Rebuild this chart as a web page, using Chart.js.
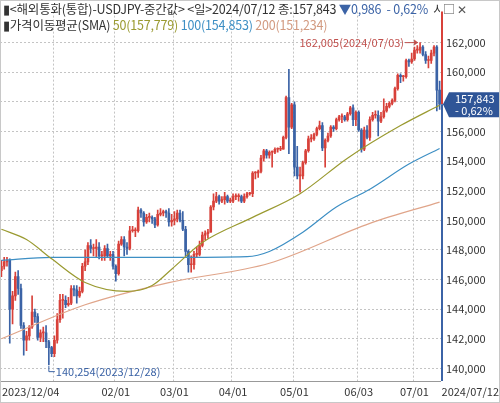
<!DOCTYPE html>
<html>
<head>
<meta charset="utf-8">
<script src="https://cdn.jsdelivr.net/npm/chart.js@4"></script>
<style>
  body { margin: 0; background: #fff; }
  #wrap { position: relative; width: 500px; height: 403px; font-family: "Noto Sans CJK KR", sans-serif; overflow: hidden; }
  .hd { position: absolute; left: 3px; font-size: 12.5px; color: #333; white-space: nowrap; letter-spacing: -0.2px; }
  #box { position: absolute; left: 0; top: 0; width: 498px; height: 401px; border: 1px solid #c8c8c8; pointer-events: none; }
</style>
</head>
<body>
<div id="wrap">
  <canvas id="chart" width="500" height="403"></canvas>
  <div class="hd" style="top:-1px; width:437px; overflow:hidden;">▮&lt;해외통화(통합)-USDJPY-중간값&gt; &lt;일&gt;2024/07/12 종:157,843 <span style="color:#3b63a6">▼0,986 &nbsp;- 0,62%</span> &nbsp;시:158,8</div>
  <div class="hd" style="top:15px;">▮가격이동평균(SMA) <span style="color:#9a9a30">50(157,779)</span> <span style="color:#3d8fc4">100(154,853)</span> <span style="color:#d29a80">200(151,234)</span></div>
  <div class="hd" style="top:0px; left:443px; font-size:12px; color:#555;">□ ✕</div>
  <div id="box"></div>
</div>
<script>
// 일봉 데이터 (2023/12/04 ~ 2024/07/12)
const opens = [
  146.6,146.9,147.2,147.3,144.0,144.9,146.2,145.4,142.9,141.9,142.2,142.8,143.8,143.5,142.1,142.4,142.4,141.8,141.4,
  141.0,141.9,143.3,144.6,144.6,144.3,144.4,145.4,145.3,144.9,145.2,146.9,147.2,148.3,148.1,148.1,148.2,147.6,147.6,148.1,147.6,147.7,
  146.9,146.4,148.4,148.7,148.2,148.1,149.3,149.3,149.3,150.7,150.5,149.9,150.2,150.2,150.1,149.7,150.4,150.5,150.6,150.5,149.9,
  150.0,150.1,150.5,150.0,149.4,147.9,147.0,147.0,147.7,147.7,148.3,149.0,149.1,149.2,150.9,151.3,151.6,151.3,151.4,151.6,151.3,
  151.3,151.6,151.6,151.6,151.3,151.6,151.8,151.8,153.2,153.2,153.3,154.2,154.7,154.4,154.6,154.6,154.8,154.8,154.8,155.6,158.3,156.3,
  157.8,153.6,153.0,153.0,153.9,154.7,155.5,155.5,155.8,156.2,156.4,154.9,155.4,155.7,156.3,156.2,156.8,157.0,157.0,156.8,157.2,157.6,156.8,
  157.3,156.1,154.8,156.1,155.6,156.8,157.1,157.1,156.7,157.0,157.4,157.7,157.9,158.1,158.9,159.8,159.7,159.7,160.8,160.7,
  160.9,161.5,161.5,161.7,161.2,160.8,160.8,161.3,161.7,158.8
];
const highs = [
  147.3,147.5,147.5,147.4,145.2,146.5,146.6,145.7,143.1,142.5,142.9,144.9,144.0,143.7,142.6,142.8,142.9,141.9,141.5,
  142.2,143.7,145.0,145.0,144.9,144.8,145.6,145.6,145.6,145.5,147.1,148.0,148.5,148.7,148.4,148.7,148.5,147.9,148.3,148.4,147.9,147.9,
  147.0,148.6,148.9,148.9,148.5,149.6,149.6,149.5,150.9,150.8,150.6,150.4,150.5,150.3,150.2,150.7,150.8,150.7,150.7,150.8,150.4,
  150.6,150.7,150.7,150.6,149.6,148.0,147.6,147.9,148.2,148.6,149.2,149.3,149.4,151.0,151.8,151.9,151.7,151.6,151.9,151.7,151.5,
  151.8,151.8,151.8,151.7,151.8,151.9,151.9,153.3,153.3,153.4,154.4,154.8,154.8,154.7,154.7,154.9,154.9,155.0,155.7,158.4,160.2,157.9,
  158.0,155.0,153.6,154.0,154.8,155.7,155.8,155.9,156.3,156.7,156.6,155.5,155.9,156.4,156.4,156.9,157.1,157.2,157.1,157.3,157.7,157.8,157.4,
  157.4,156.2,156.3,156.4,157.0,157.3,157.4,157.4,157.3,158.2,157.9,158.0,158.2,159.0,159.9,159.9,159.8,160.9,160.9,161.3,
  161.7,161.8,162.005,161.8,161.4,161.1,161.5,161.8,161.8,159.4
];
const lows = [
  146.2,146.7,146.9,141.7,143.0,144.6,145.0,142.7,140.9,141.2,141.9,142.7,143.1,141.9,141.8,141.8,141.4,140.254,140.8,
  140.8,141.7,143.1,143.4,144.1,144.2,144.3,144.9,144.4,144.8,145.1,146.6,147.0,147.8,147.6,147.5,147.4,147.3,147.3,147.5,147.3,146.7,
  145.9,146.3,148.3,147.6,147.7,148.0,149.2,148.9,149.2,150.2,149.6,149.8,149.9,149.8,149.5,149.6,150.3,150.3,150.2,149.6,149.6,
  149.7,149.9,149.9,149.3,147.6,146.5,146.5,146.7,147.5,147.6,148.2,148.7,148.8,149.2,150.7,151.2,151.1,151.2,151.1,151.2,151.2,
  151.2,151.4,151.3,151.2,151.2,151.5,151.7,151.6,152.8,152.9,153.2,154.0,154.2,154.2,153.6,154.5,154.6,154.7,154.8,155.5,154.5,156.2,
  153.0,152.8,151.9,152.8,153.8,154.6,155.3,155.4,155.7,156.1,154.7,153.6,155.3,155.6,156.0,156.1,156.7,156.6,156.7,156.7,157.1,156.4,156.4,
  156.0,154.6,154.7,155.5,155.4,156.7,156.9,155.7,156.6,156.9,157.3,157.6,157.8,158.0,158.8,159.3,159.4,159.6,160.4,160.6,
  160.8,161.3,161.3,161.1,160.6,160.3,160.6,161.1,157.4,157.5
];
const closes = [
  146.9,147.2,147.3,144.0,144.9,146.2,145.4,142.9,141.9,142.2,142.8,143.8,143.5,142.1,142.4,142.4,141.8,141.4,141.0,
  141.9,143.3,144.6,144.6,144.3,144.4,145.4,145.3,144.9,145.2,146.9,147.2,148.3,148.1,148.1,148.2,147.6,147.6,148.1,147.6,147.7,146.9,
  146.4,148.4,148.7,148.2,148.1,149.3,149.3,149.3,150.7,150.5,149.9,150.2,150.2,150.1,149.7,150.4,150.5,150.6,150.5,149.9,150.0,
  150.1,150.5,150.0,149.4,147.9,147.0,147.0,147.7,147.7,148.3,149.0,149.1,149.2,150.9,151.3,151.6,151.3,151.4,151.6,151.3,151.3,
  151.6,151.6,151.6,151.3,151.6,151.8,151.8,153.2,153.2,153.3,154.2,154.7,154.4,154.6,154.6,154.8,154.8,154.8,155.6,158.3,156.3,157.8,
  153.6,153.0,153.0,153.9,154.7,155.5,155.5,155.8,156.2,156.4,154.9,155.4,155.7,156.3,156.2,156.8,157.0,157.0,156.8,157.2,157.6,156.8,157.3,
  156.1,154.8,156.1,155.6,156.8,157.1,157.1,156.7,157.0,157.4,157.7,157.9,158.1,158.9,159.8,159.7,159.7,160.8,160.7,160.9,
  161.5,161.5,161.7,161.2,160.8,160.8,161.3,161.7,158.8,157.843
];

// 이동평균 (그림에서 읽은 값, 나머지는 null)
const ma50Pts  = { 0:149.4, 9:148.7, 18:147.4, 30:145.8, 45:145.2, 54:145.6, 61:146.7, 72:148.5, 90:150.2, 107:151.8, 124:154.2, 143:156.4, 157:157.779 };
const ma100Pts = { 0:147.3, 18:147.5, 60:147.5, 88:147.55, 96:147.9, 108:149.2, 120:150.9, 132:152.1, 146:153.8, 157:154.853 };
const ma200Pts = { 0:142.0, 30:144.3, 60:145.8, 96:147.1, 132:149.8, 157:151.234 };

// 날짜 라벨
const skipDays = ["2023/12/25", "2024/01/01"];
const dates = [];
for (let d = new Date(2023, 11, 4); d <= new Date(2024, 6, 12); d.setDate(d.getDate() + 1)) {
  if (d.getDay() === 0 || d.getDay() === 6) continue;
  const s = d.getFullYear() + "/" + String(d.getMonth() + 1).padStart(2, "0") + "/" + String(d.getDate()).padStart(2, "0");
  if (!skipDays.includes(s)) dates.push(s);
}
const gridDates = ["2024/01/02", "2024/02/01", "2024/03/01", "2024/04/01", "2024/05/01", "2024/06/03", "2024/07/01"];
const tickLabels = { "2023/12/04": "2023/12/04", "2024/02/01": "02/01", "2024/03/01": "03/01", "2024/04/01": "04/01", "2024/05/01": "05/01", "2024/06/03": "06/03", "2024/07/01": "07/01" };
const yTicks = [140, 142, 144, 146, 148, 150, 152, 154, 156, 158, 160, 162];

const UP = "#d8413a", DOWN = "#3b63a6";
const candleColors = closes.map((c, i) => c >= opens[i] ? UP : DOWN);
const maSeries = pts => dates.map((_, i) => pts[i] !== undefined ? pts[i] : null);
const fmt = v => v.toFixed(3).replace(".", ",");

const overlay = {
  id: "overlay",
  afterDraw(chart) {
    const { ctx, chartArea: a, scales: { x, y } } = chart;
    ctx.save();
    ctx.font = "11px 'Noto Sans CJK KR', sans-serif";
    ctx.textBaseline = "middle";
    // x 라벨
    ctx.fillStyle = "#333";
    dates.forEach((d, i) => {
      if (!tickLabels[d]) return;
      const px = x.getPixelForValue(i);
      ctx.textAlign = i === 0 ? "left" : "center";
      ctx.fillText(tickLabels[d], i === 0 ? 2 : px, a.bottom + 11);
    });
    ctx.textAlign = "right";
    ctx.fillText("2024/07/12", 499, a.bottom + 11);
    // 하단 축선
    ctx.strokeStyle = "#999"; ctx.lineWidth = 1;
    ctx.beginPath(); ctx.moveTo(0, a.bottom + 0.5); ctx.lineTo(a.right, a.bottom + 0.5); ctx.stroke();
    // 우측 축선 (현재가 위: 빨강, 아래: 파랑)
    const last = closes[closes.length - 1];
    const py = y.getPixelForValue(last);
    ctx.lineWidth = 2;
    ctx.strokeStyle = UP;
    ctx.beginPath(); ctx.moveTo(a.right + 1, a.top); ctx.lineTo(a.right + 1, py); ctx.stroke();
    ctx.strokeStyle = DOWN;
    ctx.beginPath(); ctx.moveTo(a.right + 1, py); ctx.lineTo(a.right + 1, a.bottom); ctx.stroke();
    // 현재가 태그
    ctx.fillStyle = "#2f5597";
    ctx.beginPath();
    ctx.moveTo(a.right + 2, py);
    ctx.lineTo(a.right + 8, py - 12);
    ctx.lineTo(500, py - 12);
    ctx.lineTo(500, py + 13);
    ctx.lineTo(a.right + 8, py + 13);
    ctx.closePath(); ctx.fill();
    ctx.fillStyle = "#fff";
    ctx.textAlign = "left";
    ctx.fillText(fmt(last), a.right + 14, py - 5);
    ctx.fillText("- 0,62%", a.right + 14, py + 7);
    // 최고/최저 표시
    const hi = Math.max(...highs), hiI = highs.indexOf(hi);
    const lo = Math.min(...lows), loI = lows.indexOf(lo);
    const hx = x.getPixelForValue(hiI), hy = y.getPixelForValue(hi);
    ctx.fillStyle = "#c0504d"; ctx.strokeStyle = "#c0504d"; ctx.lineWidth = 1;
    ctx.textAlign = "right";
    ctx.fillText(fmt(hi) + "(" + dates[hiI] + ")", hx - 16, hy);
    ctx.beginPath(); ctx.moveTo(hx - 15, hy); ctx.lineTo(hx - 2, hy); ctx.stroke();
    ctx.beginPath(); ctx.moveTo(hx - 2, hy); ctx.lineTo(hx - 6, hy - 3); ctx.lineTo(hx - 6, hy + 3); ctx.fill();
    const lx = x.getPixelForValue(loI), ly = y.getPixelForValue(lo);
    ctx.fillStyle = DOWN; ctx.strokeStyle = DOWN;
    ctx.textAlign = "left";
    ctx.beginPath(); ctx.moveTo(lx, ly + 1); ctx.lineTo(lx, ly + 7); ctx.lineTo(lx + 6, ly + 7); ctx.stroke();
    ctx.fillText(fmt(lo) + "(" + dates[loI] + ")", lx + 7, ly + 7);
    ctx.restore();
  }
};

const maLine = (pts, color) => ({
  type: "line", data: maSeries(pts), borderColor: color, borderWidth: 1.2, pointRadius: 0,
  spanGaps: true, cubicInterpolationMode: "monotone", order: 0
});

new Chart(document.getElementById("chart").getContext("2d"), {
  data: {
    labels: dates,
    datasets: [
      maLine(ma50Pts, "#9a9a30"),
      maLine(ma100Pts, "#3d8fc4"),
      maLine(ma200Pts, "#e0a58a"),
      { type: "bar", data: lows.map((l, i) => [l, highs[i]]), backgroundColor: candleColors, barThickness: 1, grouped: false, order: 2 },
      { type: "bar", data: opens.map((o, i) => [o, closes[i]]), backgroundColor: candleColors, barThickness: 2, minBarLength: 1, grouped: false, order: 1 }
    ]
  },
  options: {
    responsive: false,
    animation: false,
    layout: { padding: { top: 0, bottom: 22, left: 0, right: 0 } },
    plugins: { legend: { display: false }, tooltip: { enabled: false } },
    scales: {
      x: {
        type: "category",
        offset: true,
        ticks: { display: false, autoSkip: false },
        grid: { color: c => gridDates.includes(dates[c.index]) ? "#c4c4c4" : "transparent", drawTicks: false },
        border: { display: false, dash: [2, 2] }
      },
      y: {
        position: "right",
        min: 139.15, max: 164.1,
        afterBuildTicks: s => { s.ticks = yTicks.map(v => ({ value: v })); },
        afterFit: s => { s.width = 59; },
        ticks: { callback: v => fmt(v), color: "#333", font: { family: "'Noto Sans CJK KR'", size: 11 }, padding: 5 },
        grid: { color: "#c4c4c4", drawTicks: false },
        border: { display: false, dash: [2, 2] }
      }
    }
  },
  plugins: [overlay]
});
</script>
</body>
</html>
